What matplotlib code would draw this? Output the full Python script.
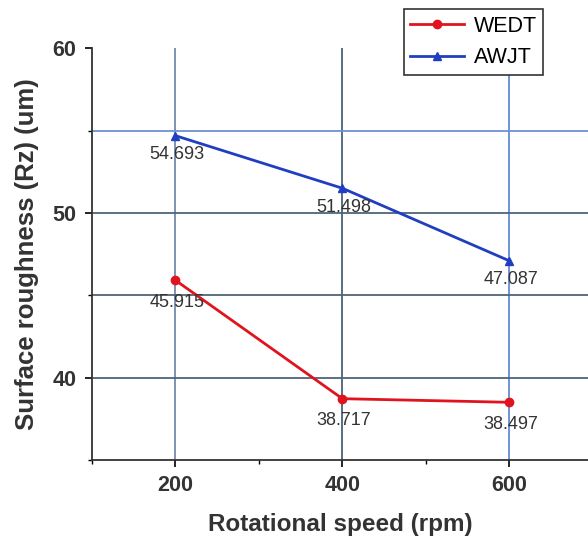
import matplotlib.pyplot as plt
from matplotlib.ticker import MultipleLocator

plt.rcParams['font.family'] = ['Liberation Sans', 'DejaVu Sans']

speed = [200, 400, 600]
wedt = [45.915, 38.717, 38.497]
awjt = [54.693, 51.498, 47.087]

fig = plt.figure(figsize=(5.88, 5.36), dpi=100)
ax = fig.add_axes([0.156, 0.142, 0.844, 0.768])

# grid lines
for x, c in zip(speed, ['#7f93b5', '#5a6c80', '#6f95d8']):
    ax.axvline(x, color=c, lw=1.4, zorder=1)
for y, c in zip([55, 50, 45, 40], ['#6f8fd6', '#4f6478', '#4f6478', '#4f6478']):
    ax.axhline(y, color=c, lw=1.3, zorder=1)

ax.plot(speed, wedt, color='#e0141e', marker='o', ms=6, lw=2, label='WEDT', zorder=3)
ax.plot(speed, awjt, color='#1f3fc0', marker='^', ms=6, lw=2, label='AWJT', zorder=3)

for x, y in zip(speed, wedt):
    ax.annotate(f'{y:.3f}', (x, y), xytext=(1, -19), textcoords='offset points',
                ha='center', fontsize=13, color='#333333')
for x, y in zip(speed, awjt):
    ax.annotate(f'{y:.3f}', (x, y), xytext=(1, -17), textcoords='offset points',
                ha='center', fontsize=13, color='#333333')

ax.set_xlim(100, 694)
ax.set_ylim(35, 60)
ax.set_xticks(speed)
ax.xaxis.set_minor_locator(MultipleLocator(100))
ax.set_yticks([40, 50, 60])
ax.yaxis.set_minor_locator(MultipleLocator(5))
ax.tick_params(which='major', length=5, width=1.2, labelsize=15.5, pad=6)
ax.tick_params(which='minor', length=3, width=1)
for lab in ax.get_xticklabels() + ax.get_yticklabels():
    lab.set_fontweight('bold')
    lab.set_color('#333333')

for s in ['top', 'right']:
    ax.spines[s].set_visible(False)
for s in ['left', 'bottom']:
    ax.spines[s].set_linewidth(1.3)
    ax.spines[s].set_color('#333333')

ax.set_xlabel('Rotational speed (rpm)', fontsize=17.5, fontweight='bold', color='#333333', labelpad=12)
ax.set_ylabel('Surface roughness (Rz) (um)', fontsize=18.5, fontweight='bold', color='#333333', labelpad=10)

leg = ax.legend(loc='upper left', bbox_to_anchor=(0.629, 1.095), fontsize=15.5,
                fancybox=False, framealpha=1, edgecolor='#333333',
                handlelength=2.5, handletextpad=0.45, borderpad=0.3,
                labelspacing=0.5, borderaxespad=0)
leg.get_frame().set_linewidth(1.2)

fig.savefig('out.png', dpi=100)
